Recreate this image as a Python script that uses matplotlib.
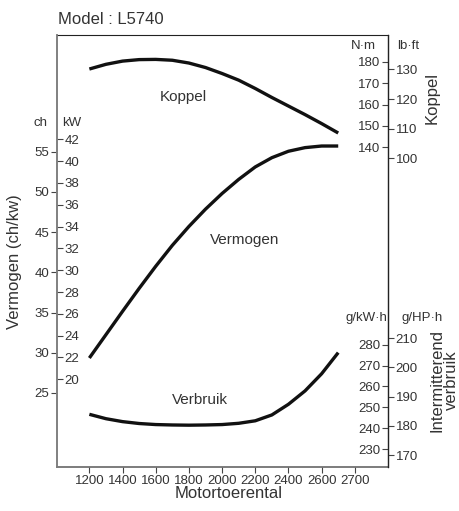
import matplotlib.pyplot as plt

plt.rcParams['font.family'] = ['Liberation Sans', 'DejaVu Sans']

rpm = [1200, 1300, 1400, 1500, 1600, 1700, 1800, 1900, 2000,
       2100, 2200, 2300, 2400, 2500, 2600, 2700]
# Koppel in N·m
koppel = [176.6, 178.8, 180.3, 181.0, 181.1, 180.7, 179.4, 177.3, 174.5,
          171.4, 167.5, 163.3, 159.3, 155.3, 151.1, 146.7]
# Vermogen in ch
vermogen = [29.35, 32.25, 35.15, 38.0, 40.75, 43.35, 45.7, 47.85, 49.8,
            51.55, 53.1, 54.25, 55.05, 55.5, 55.7, 55.7]
# Verbruik in g/kW·h
verbruik = [246.7, 244.6, 243.2, 242.3, 241.8, 241.6, 241.5, 241.6, 241.8,
            242.4, 243.6, 246.4, 251.5, 257.9, 266.1, 276.2]

xtick_pos = [1200, 1400, 1600, 1800, 2000, 2200, 2400, 2600, 2800]
xtick_labels = ['1200', '1400', '1600', '1800', '2000', '2200', '2400', '2600', '2700']
ch_ticks = [25, 30, 35, 40, 45, 50, 55]
kw_ticks = [20, 22, 24, 26, 28, 30, 32, 34, 36, 38, 40, 42]
nm_ticks = [140, 150, 160, 170, 180]
lbft_ticks = [100, 110, 120, 130]
gkwh_ticks = [230, 240, 250, 260, 270, 280]
ghph_ticks = [170, 180, 190, 200, 210]

txt = '#333333'
fs = 9.5

fig = plt.figure(figsize=(4.59, 5.11), dpi=100)
ax = fig.add_axes([0.1242, 0.0861, 0.8453 - 0.1242, 0.9315 - 0.0861])
ax.set_xlim(1005, 3000)
ax.set_ylim(15.8, 69.5)
ax.set_xticks(xtick_pos, xtick_labels)
ax.set_yticks(ch_ticks)
ax.tick_params(axis='both', direction='out', length=4, width=0.8, colors='#444444',
               labelcolor=txt, labelsize=fs, pad=1.5)
ax.spines['left'].set_color('#808080')
ax.spines['left'].set_linewidth(1.2)
ax.spines['right'].set_visible(False)
ax.spines['top'].set_color('#222222')
ax.spines['bottom'].set_color('#666666')
ax.spines['bottom'].set_linewidth(1.2)
ax.plot(rpm, vermogen, color='#111111', lw=2.4, solid_capstyle='butt', solid_joinstyle='round')


def twin(ylim, ticks, side, at):
    a = ax.twinx()
    a.set_ylim(*ylim)
    a.set_yticks(ticks)
    for s in ['top', 'bottom', 'left', 'right']:
        a.spines[s].set_visible(False)
    a.yaxis.set_ticks_position(side)
    a.spines[side].set_visible(True)
    a.spines[side].set_position(('axes', at))
    a.spines[side].set_color('#222222')
    a.tick_params(axis='y', direction='out', length=4, width=0.8, colors='#444444',
                  labelcolor=txt, labelsize=fs, pad=1.5)
    return a


ax_kw = twin((11.96, 51.56), kw_ticks, 'right', 0.0)
ax_kw.spines['right'].set_color('#808080')
ax_kw.spines['right'].set_linewidth(1.2)
ax_nm = twin((-9.4, 192.5), nm_ticks, 'left', 1.0)
ax_lb = twin((-4.0, 141.6), lbft_ticks, 'right', 1.0)
ax_g = twin((221.5, 428.1), gkwh_ticks, 'left', 1.0)
ax_hp = twin((165.9, 313.6), ghph_ticks, 'right', 1.0)

ax_nm.plot(rpm, koppel, color='#111111', lw=2.4, solid_capstyle='butt', solid_joinstyle='round')
ax_g.plot(rpm, verbruik, color='#111111', lw=2.4, solid_capstyle='butt', solid_joinstyle='round')

# labels bij de curves
def figtext(x, y, s, **kw):
    fig.text(x / 459, 1 - y / 511, s, ha='center', va='center', color=txt, **kw)


figtext(183, 97, 'Koppel', fontsize=11)
figtext(245, 240, 'Vermogen', fontsize=11)
figtext(200, 400, 'Verbruik', fontsize=11)

figtext(40, 123, 'ch', fontsize=fs)
figtext(72, 123, 'kW', fontsize=fs)
figtext(363, 46, 'N·m', fontsize=fs)
figtext(408, 46, 'lb·ft', fontsize=fs)
figtext(366, 318, 'g/kW·h', fontsize=fs)
figtext(422, 318, 'g/HP·h', fontsize=fs)

figtext(432, 98, 'Koppel', fontsize=12, rotation=90)
figtext(444, 380, 'Intermitterend\nverbruik', fontsize=12, rotation=90, linespacing=0.95)
figtext(15, 262, 'Vermogen (ch/kw)', fontsize=12, rotation=90)
figtext(229, 493, 'Motortoerental', fontsize=12)
fig.text(58 / 459, 1 - 20 / 511, 'Model : L5740', ha='left', va='center', color=txt, fontsize=12)

fig.savefig('out.png', dpi=100)
